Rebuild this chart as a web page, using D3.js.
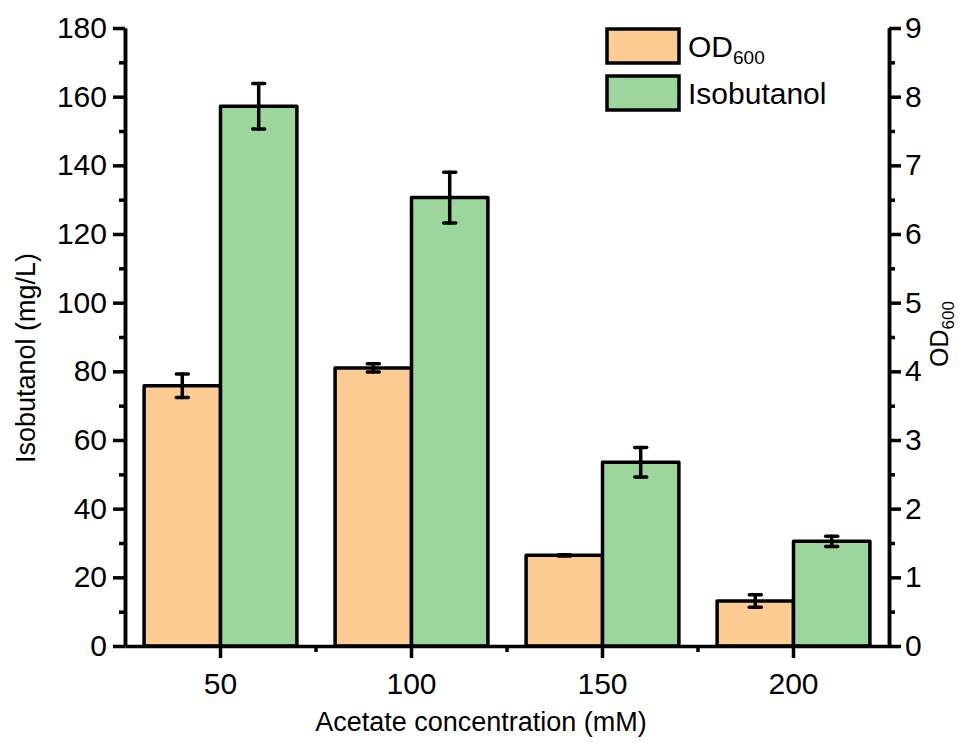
<!DOCTYPE html>
<html>
<head>
<meta charset="utf-8">
<script src="https://cdn.jsdelivr.net/npm/d3@7"></script>
<style>
  body { margin: 0; background: #fff; }
  svg { display: block; font-family: Arial, "Liberation Sans", sans-serif; }
</style>
</head>
<body>
<svg id="chart" width="965" height="743"></svg>
<script>
// données
const categories = ["50", "100", "150", "200"];
const od600 = [3.79, 4.05, 1.32, 0.655];
const od600Err = [0.17, 0.06, 0.01, 0.09];
const isobutanol = [157.2, 130.6, 53.5, 30.5];
const isobutanolErr = [6.6, 7.4, 4.3, 1.5];
const leftTicks = [0, 20, 40, 60, 80, 100, 120, 140, 160, 180];
const rightTicks = [0, 1, 2, 3, 4, 5, 6, 7, 8, 9];

const width = 965, height = 743;
const margin = { top: 28, right: 76, bottom: 97, left: 125 };
const orange = "#fdcc92", green = "#9dd69c";

const svg = d3.select("#chart");

const x = d3.scaleBand().domain(categories).range([margin.left, width - margin.right]).padding(0);
const yLeft = d3.scaleLinear().domain([0, 180]).range([height - margin.bottom, margin.top]);
const yRight = d3.scaleLinear().domain([0, 9]).range([height - margin.bottom, margin.top]);

const barW = x.bandwidth() * 0.4;
const y0 = height - margin.bottom;

// barres OD600 (axe droit)
const gBars = svg.append("g").attr("stroke", "#000").attr("stroke-width", 3.5).attr("stroke-linejoin", "round");
gBars.selectAll("rect.od").data(categories).enter().append("rect")
    .attr("class", "od")
    .attr("x", d => x(d) + x.bandwidth() / 2 - barW)
    .attr("y", (d, i) => yRight(od600[i]))
    .attr("width", barW)
    .attr("height", (d, i) => y0 - yRight(od600[i]))
    .attr("fill", orange);

gBars.selectAll("rect.iso").data(categories).enter().append("rect")
    .attr("class", "iso")
    .attr("x", d => x(d) + x.bandwidth() / 2)
    .attr("y", (d, i) => yLeft(isobutanol[i]))
    .attr("width", barW)
    .attr("height", (d, i) => y0 - yLeft(isobutanol[i]))
    .attr("fill", green);

// barres d'erreur
function errorBars(cx, vals, errs, scale) {
    const g = svg.append("g").attr("stroke", "#000").attr("stroke-width", 3.5).attr("stroke-linecap", "round");
    categories.forEach((c, i) => {
        const xc = cx(c);
        const top = scale(vals[i] + errs[i]), bot = scale(vals[i] - errs[i]);
        g.append("line").attr("x1", xc).attr("x2", xc).attr("y1", top).attr("y2", bot);
        g.append("line").attr("x1", xc - 6).attr("x2", xc + 6).attr("y1", top).attr("y2", top);
        g.append("line").attr("x1", xc - 6).attr("x2", xc + 6).attr("y1", bot).attr("y2", bot);
    });
}
errorBars(c => x(c) + x.bandwidth() / 2 - barW / 2, od600, od600Err, yRight);
errorBars(c => x(c) + x.bandwidth() / 2 + barW / 2, isobutanol, isobutanolErr, yLeft);

// axes
function styleAxis(g) {
    g.selectAll("path.domain").attr("stroke", "#000").attr("stroke-width", 3.5);
    g.selectAll(".tick line").attr("stroke", "#000").attr("stroke-width", 3.5);
    g.selectAll(".tick text").attr("fill", "#000").style("font-size", "30px")
        .style("font-family", 'Arial, "Liberation Sans", sans-serif');
}

// graduations secondaires
const leftMinor = d3.range(10, 180, 20);
const rightMinor = d3.range(0.5, 9, 1);

svg.append("g").attr("transform", `translate(${margin.left},0)`)
    .call(d3.axisLeft(yLeft).tickValues(leftMinor).tickSize(6).tickFormat("").tickSizeOuter(0))
    .call(styleAxis);
svg.append("g").attr("transform", `translate(${margin.left},0)`)
    .call(d3.axisLeft(yLeft).tickValues(leftTicks).tickSize(12).tickPadding(6).tickSizeOuter(0))
    .call(styleAxis);

svg.append("g").attr("transform", `translate(${width - margin.right},0)`)
    .call(d3.axisRight(yRight).tickValues(rightMinor).tickSize(6).tickFormat("").tickSizeOuter(0))
    .call(styleAxis);
svg.append("g").attr("transform", `translate(${width - margin.right},0)`)
    .call(d3.axisRight(yRight).tickValues(rightTicks).tickSize(12).tickPadding(4).tickSizeOuter(0))
    .call(styleAxis);

// axe des x : grandes graduations au centre, petites aux bords de catégorie
const xMinor = categories.slice(1).map(c => x(c));
const gx = svg.append("g").attr("transform", `translate(0,${y0})`)
    .call(d3.axisBottom(x).tickSize(12).tickPadding(10).tickSizeOuter(0))
    .call(styleAxis);
gx.selectAll(".tick text").attr("dy", "0.85em");
svg.append("g").selectAll("line").data(xMinor).enter().append("line")
    .attr("x1", d => d).attr("x2", d => d).attr("y1", y0).attr("y2", y0 + 6)
    .attr("stroke", "#000").attr("stroke-width", 3.5);

// titres
svg.append("text")
    .attr("x", (margin.left + width - margin.right) / 2 - 26).attr("y", 731)
    .attr("text-anchor", "middle").style("font-size", "27px")
    .text("Acetate concentration (mM)");

svg.append("text")
    .attr("transform", `translate(35,${(margin.top + y0) / 2 + 21}) rotate(-90)`)
    .attr("text-anchor", "middle").style("font-size", "27px")
    .text("Isobutanol (mg/L)");

const rt = svg.append("text")
    .attr("transform", `translate(948,${(margin.top + y0) / 2 - 3}) rotate(-90)`)
    .attr("text-anchor", "middle").style("font-size", "25px");
rt.append("tspan").text("OD");
rt.append("tspan").attr("dy", 6).style("font-size", "17px").text("600");

// légende
const legend = [
    { label: "OD", sub: "600", color: orange },
    { label: "Isobutanol", sub: null, color: green }
];
const lg = svg.append("g").attr("transform", "translate(607,29)");
legend.forEach((d, i) => {
    const row = lg.append("g").attr("transform", `translate(0,${i * 47})`);
    row.append("rect").attr("width", 72).attr("height", 34)
        .attr("fill", d.color).attr("stroke", "#000").attr("stroke-width", 3.5);
    const t = row.append("text").attr("x", 81).attr("y", 28).style("font-size", "30px");
    t.append("tspan").text(d.label);
    if (d.sub) t.append("tspan").attr("dy", 7).style("font-size", "19px").text(d.sub);
});
</script>
</body>
</html>
